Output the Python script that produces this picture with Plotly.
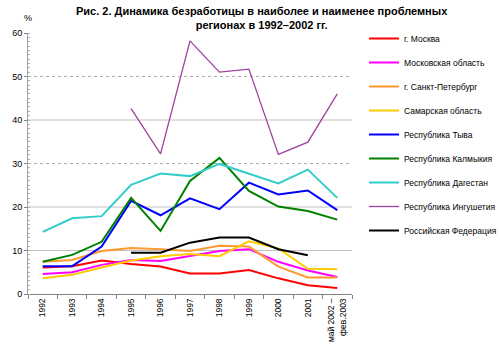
import plotly.graph_objects as go

categories = ["1992", "1993", "1994", "1995", "1996", "1997", "1998", "1999",
              "2000", "2001", "май 2002 –<br>фев.2003"]

moscow      = [6.1, 6.4, 7.7, 6.9, 6.3, 4.7, 4.7, 5.5, 3.6, 2.0, 1.4]
moscow_obl  = [4.6, 5.0, 6.7, 7.8, 7.6, 8.7, 9.9, 10.3, 7.4, 5.4, 3.9]
spb         = [7.4, 7.8, 9.9, 10.6, 10.3, 9.9, 11.1, 10.9, 6.3, 3.8, 3.8]
samara      = [3.6, 4.4, 6.1, 7.7, 8.7, 9.2, 8.7, 12.1, 10.5, 5.8, 5.7]
tyva        = [6.4, 6.4, 10.9, 21.4, 18.1, 22.0, 19.5, 25.6, 22.9, 23.8, 19.3]
kalmykia    = [7.4, 9.0, 12.0, 22.1, 14.5, 26.0, 31.3, 23.7, 20.1, 19.1, 17.1]
dagestan    = [14.3, 17.4, 17.9, 25.1, 27.7, 27.1, 29.9, 27.7, 25.4, 28.6, 22.1]
ingushetia  = [None, None, None, 42.6, 32.2, 58.2, 51.0, 51.7, 32.1, 34.9, 46.0]
russia      = [None, None, None, 9.5, 9.5, 11.8, 13.0, 13.0, 10.3, 8.9, None]

series = [
    ("г. Москва", moscow, "#ff0000", 2),
    ("Московская область", moscow_obl, "#ff00ff", 2),
    ("г. Санкт-Петербург", spb, "#ff9933", 2),
    ("Самарская область", samara, "#ffcc00", 2),
    ("Республика Тыва", tyva, "#0000ff", 2),
    ("Республика Калмыкия", kalmykia, "#008000", 2),
    ("Республика Дагестан", dagestan, "#33cccc", 2),
    ("Республика Ингушетия", ingushetia, "#a040a0", 1.3),
    ("Российская Федерация", russia, "#000000", 2),
]

grid_solid = [10, 20, 40]
grid_dot = [30, 50]

FONT = "Arial, Liberation Sans, sans-serif"
PLOT_H = 354 - 33 - 60
PLOT_W = 500 - 25 - 129

fig = go.Figure()
for name, vals, color, w in series:
    fig.add_trace(go.Scatter(x=categories, y=vals, name=name, mode="lines",
                             line=dict(color=color, width=w),
                             legendgroup=name, connectgaps=False))

shapes = []
for g in grid_solid:
    shapes.append(dict(type="line", xref="paper", yref="y", x0=0, x1=1, y0=g, y1=g,
                       line=dict(color="#c0c0c0", width=1), layer="below"))
for g in grid_dot:
    shapes.append(dict(type="line", xref="paper", yref="y", x0=0, x1=1, y0=g, y1=g,
                       line=dict(color="#b0b0b0", width=1, dash="dot"), layer="below"))

fig.update_layout(
    width=500, height=354,
    margin=dict(l=25, r=129, t=33, b=60),
    paper_bgcolor="white", plot_bgcolor="white",
    font=dict(family=FONT, size=8.5, color="#000000"),
    showlegend=True,
    legend=dict(x=364/500, xref="container", xanchor="left",
                y=1 - (134.5 - 33) / PLOT_H, yref="paper", yanchor="middle",
                bgcolor="rgba(0,0,0,0)", font=dict(size=8.5),
                tracegroupgap=5, itemwidth=30),
    shapes=shapes,
    xaxis=dict(type="category", showgrid=False, showline=True, linecolor="#808080",
               ticks="outside", tickson="boundaries", ticklen=4, tickcolor="#808080",
               tickangle=-90, tickfont=dict(size=8.5), range=[-0.5, 10.5]),
    yaxis=dict(range=[0, 60], dtick=10, showgrid=False, showline=True, linecolor="#a0a0a0",
               ticks="outside", ticklen=3, tickcolor="#808080", tickfont=dict(size=9),
               zeroline=False,
               minor=dict(ticks="inside", dtick=1, ticklen=2, tickcolor="#b0b0b0")),
    annotations=[
        dict(text="%", xref="paper", yref="paper", x=0, y=1, xanchor="center",
             yanchor="bottom", yshift=8, showarrow=False, font=dict(size=9)),
        dict(text="<b>Рис. 2. Динамика безработицы в наиболее и наименее проблемных<br>регионах в 1992–2002 гг.</b>",
             xref="paper", yref="paper", x=(275 - 25) / PLOT_W, y=1 + 30/PLOT_H,
             xanchor="center", yanchor="top", showarrow=False, align="center",
             font=dict(size=11, family=FONT)),
    ],
)

fig.write_html("out.html")
